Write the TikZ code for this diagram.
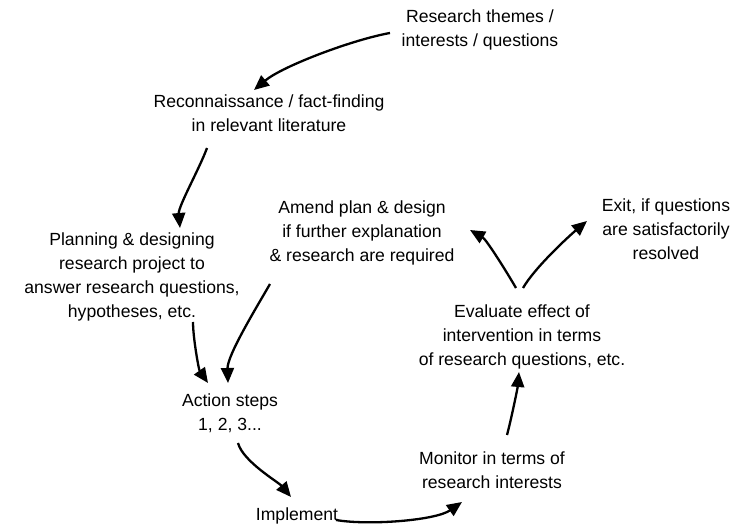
\documentclass[tikz,border=0pt]{standalone}
\usepackage{fontspec}
\setmainfont{Liberation Sans}
\usetikzlibrary{arrows.meta}

\begin{document}
\begin{tikzpicture}
  [x=1pt,y=1pt,every node/.style={align=center,inner sep=2pt,font=\fontsize{17.6}{24}\selectfont},
   cyc/.style={-{Triangle[length=15pt,width=13pt]},line width=2.3pt,looseness=0.65}]
  \useasboundingbox (0,0) rectangle (740,-526);
  \node (themes) at (480,-30) {Research themes /\\interests / questions};
  \node (recon) at (269,-113) {Reconnaissance / fact-finding\\in relevant literature};
  \node (plan) at (132,-277) {Planning \& designing\\research project to\\answer research questions,\\hypotheses, etc.};
  \node (amend) at (362,-233) {Amend plan \& design\\if further explanation\\\& research are required};
  \node (exit) at (666,-229) {Exit, if questions\\are satisfactorily\\resolved};
  \node (eval) at (522,-337) {Evaluate effect of\\intervention in terms\\of research questions, etc.};
  \node (action) at (230,-413) {Action steps\\1, 2, 3...};
  \node (impl) at (297,-516) {Implement};
  \node (mon) at (492,-470) {Monitor in terms of\\research interests};
  \foreach \from/\fx/\fy/\to/\tx/\ty/\o/\i in {
      themes/-90/-3/recon/-15/23/190/40,
      recon/-62/-35/plan/48/49/250/95,
      plan/61/-45/action/-22/30/270/125,
      amend/-92/-51/action/-2/30/240/92,
      action/8/-30/impl/-6/19/285/130,
      impl/39/-4/mon/-30/-32/-10/215,
      mon/15/35/eval/-3/-35/75/265,
      eval/-6/49/amend/108/3/120/330,
      eval/1/49/exit/-79/8/60/220}
    \draw[cyc] ([shift={(\fx,\fy)}]\from.center) to[out=\o,in=\i] ([shift={(\tx,\ty)}]\to.center);
\end{tikzpicture}
\end{document}
